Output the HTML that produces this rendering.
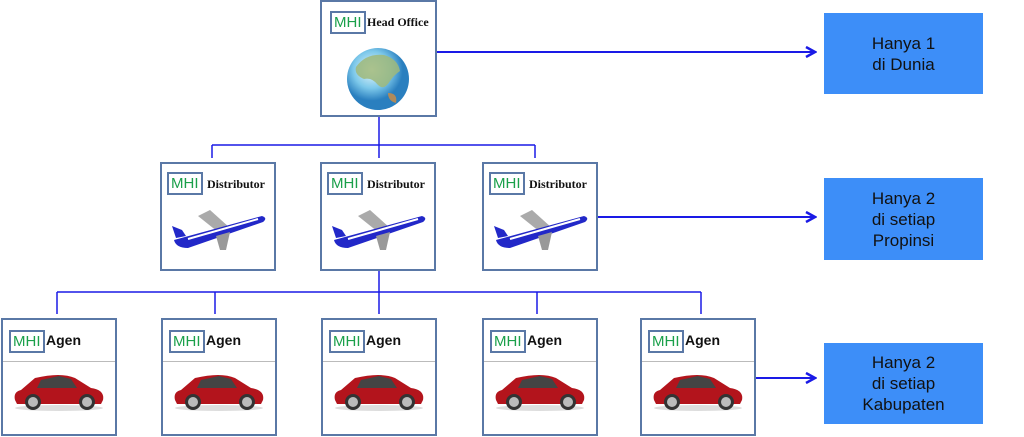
<!DOCTYPE html>
<html><head><meta charset="utf-8"><style>
body{margin:0;width:1024px;height:437px;background:#fff;position:relative;overflow:hidden;font-family:"Liberation Sans",sans-serif}
.b{position:absolute;border:2px solid #5a78a6;box-sizing:border-box;background:#fff}
.m{position:absolute;border:2px solid #5a78a6;color:#1aa04a;font:15px "Liberation Sans",sans-serif;padding:1px 2px;line-height:17px}
.t{position:absolute;font:bold 12px "Liberation Serif",serif;color:#111}
.ta{position:absolute;font:bold 14px "Liberation Sans",sans-serif;color:#111}
.blue{position:absolute;background:#3d8ef8;left:824px;width:159px;color:#111;font-size:17px;line-height:21px;text-align:center;display:flex;align-items:center;justify-content:center}
svg{position:absolute;left:0;top:0}
</style></head><body>
<svg width="1024" height="437">
<defs><marker id="a" markerWidth="12" markerHeight="12" refX="10" refY="6" orient="auto" markerUnits="userSpaceOnUse"><path d="M1,1 L10,6 L1,11" fill="none" stroke="#1a1ae6" stroke-width="2.5"/></marker></defs>
<g stroke="#1a1ae6" stroke-width="1.5" fill="none">
<line x1="437" y1="52" x2="815" y2="52" stroke-width="2" marker-end="url(#a)"/>
<line x1="598" y1="217" x2="815" y2="217" stroke-width="2" marker-end="url(#a)"/>
<line x1="756" y1="378" x2="815" y2="378" stroke-width="2" marker-end="url(#a)"/>
<line x1="379" y1="117" x2="379" y2="145"/>
<line x1="212" y1="145" x2="535" y2="145"/>
<line x1="212" y1="145" x2="212" y2="158"/><line x1="379" y1="145" x2="379" y2="158"/><line x1="535" y1="145" x2="535" y2="158"/>
<line x1="379" y1="271" x2="379" y2="292"/>
<line x1="57" y1="292" x2="701" y2="292"/>
<line x1="57" y1="292" x2="57" y2="314"/><line x1="215" y1="292" x2="215" y2="314"/><line x1="379" y1="292" x2="379" y2="314"/><line x1="537" y1="292" x2="537" y2="314"/><line x1="701" y1="292" x2="701" y2="314"/>
</g>
</svg>

<div class="b" style="left:320px;top:0;width:117px;height:117px"></div>
<div class="m" style="left:330px;top:11px">MHI</div><div class="t" style="left:367px;top:15px">Head Office</div>
<svg style="left:344px;top:45px" width="68" height="68"><defs><radialGradient id="g" cx="40%" cy="35%"><stop offset="0" stop-color="#eef8fc"/><stop offset="0.6" stop-color="#7cc8ea"/><stop offset="1" stop-color="#2a7fbf"/></radialGradient></defs><circle cx="34" cy="34" r="31" fill="url(#g)"/><path d="M12,22 Q22,8 40,10 Q54,14 56,26 Q50,30 46,36 Q40,46 34,40 Q28,32 20,34 Q10,30 12,22z" fill="#9fb87a" opacity=".85"/><path d="M44,48 Q54,48 52,58 Q44,56 44,48z" fill="#b08a5a"/></svg>

<div class="blue" style="top:13px;height:81px">Hanya 1<br>di Dunia</div>
<div class="blue" style="top:178px;height:82px">Hanya 2<br>di setiap<br>Propinsi</div>
<div class="blue" style="top:343px;height:81px">Hanya 2<br>di setiap<br>Kabupaten</div>

<div class="b" style="left:160px;top:162px;width:116px;height:109px"></div>
<div class="b" style="left:320px;top:162px;width:116px;height:109px"></div>
<div class="b" style="left:482px;top:162px;width:116px;height:109px"></div>
<div class="m" style="left:167px;top:172px">MHI</div><div class="t" style="left:207px;top:177px">Distributor</div>
<div class="m" style="left:327px;top:172px">MHI</div><div class="t" style="left:367px;top:177px">Distributor</div>
<div class="m" style="left:489px;top:172px">MHI</div><div class="t" style="left:529px;top:177px">Distributor</div>
<div id="pl"></div>
<div id="ag"></div>
<script>
var pxs=[168,328,490],p='';
pxs.forEach(function(x){
p+='<svg style="position:absolute;left:'+x+'px;top:206px" width="102" height="46"><path d="M30,10 L42,4 L62,22 L50,26z" fill="#aaa"/><path d="M6,34 L94,10 Q100,12 95,16 L20,42 Q8,42 6,34z" fill="#2228c8"/><path d="M48,30 L62,26 L58,44 L52,44z" fill="#999"/><path d="M8,32 L4,20 L14,24 L18,30z" fill="#2228c8"/><path d="M20,33 L90,13" stroke="#fff" stroke-width="2"/></svg>';
});
document.getElementById('pl').innerHTML=p;
var xs=[1,161,321,482,640],h='';
xs.forEach(function(x){
h+='<div class="b" style="left:'+x+'px;top:318px;width:116px;height:118px"></div>'+
'<div style="position:absolute;left:'+(x+2)+'px;top:361px;width:112px;height:1px;background:#bbb"></div>'+
'<div class="m" style="left:'+(x+8)+'px;top:330px">MHI</div><div class="ta" style="left:'+(x+45)+'px;top:332px">Agen</div>'+
'<svg style="position:absolute;left:'+(x+10)+'px;top:370px" width="96" height="44"><path d="M4,30 Q2,22 10,20 L24,8 Q50,2 64,8 L80,18 Q94,20 92,30 L90,34 L6,34z" fill="#b3141c"/><path d="M30,10 L48,6 L60,9 L66,18 L26,18z" fill="#444"/><ellipse cx="48" cy="38" rx="44" ry="3" fill="#ddd"/><circle cx="22" cy="32" r="8" fill="#333"/><circle cx="22" cy="32" r="5" fill="#bbb"/><circle cx="76" cy="32" r="8" fill="#333"/><circle cx="76" cy="32" r="5" fill="#bbb"/></svg>';
});
document.getElementById('ag').innerHTML=h;
</script>
</body></html>
